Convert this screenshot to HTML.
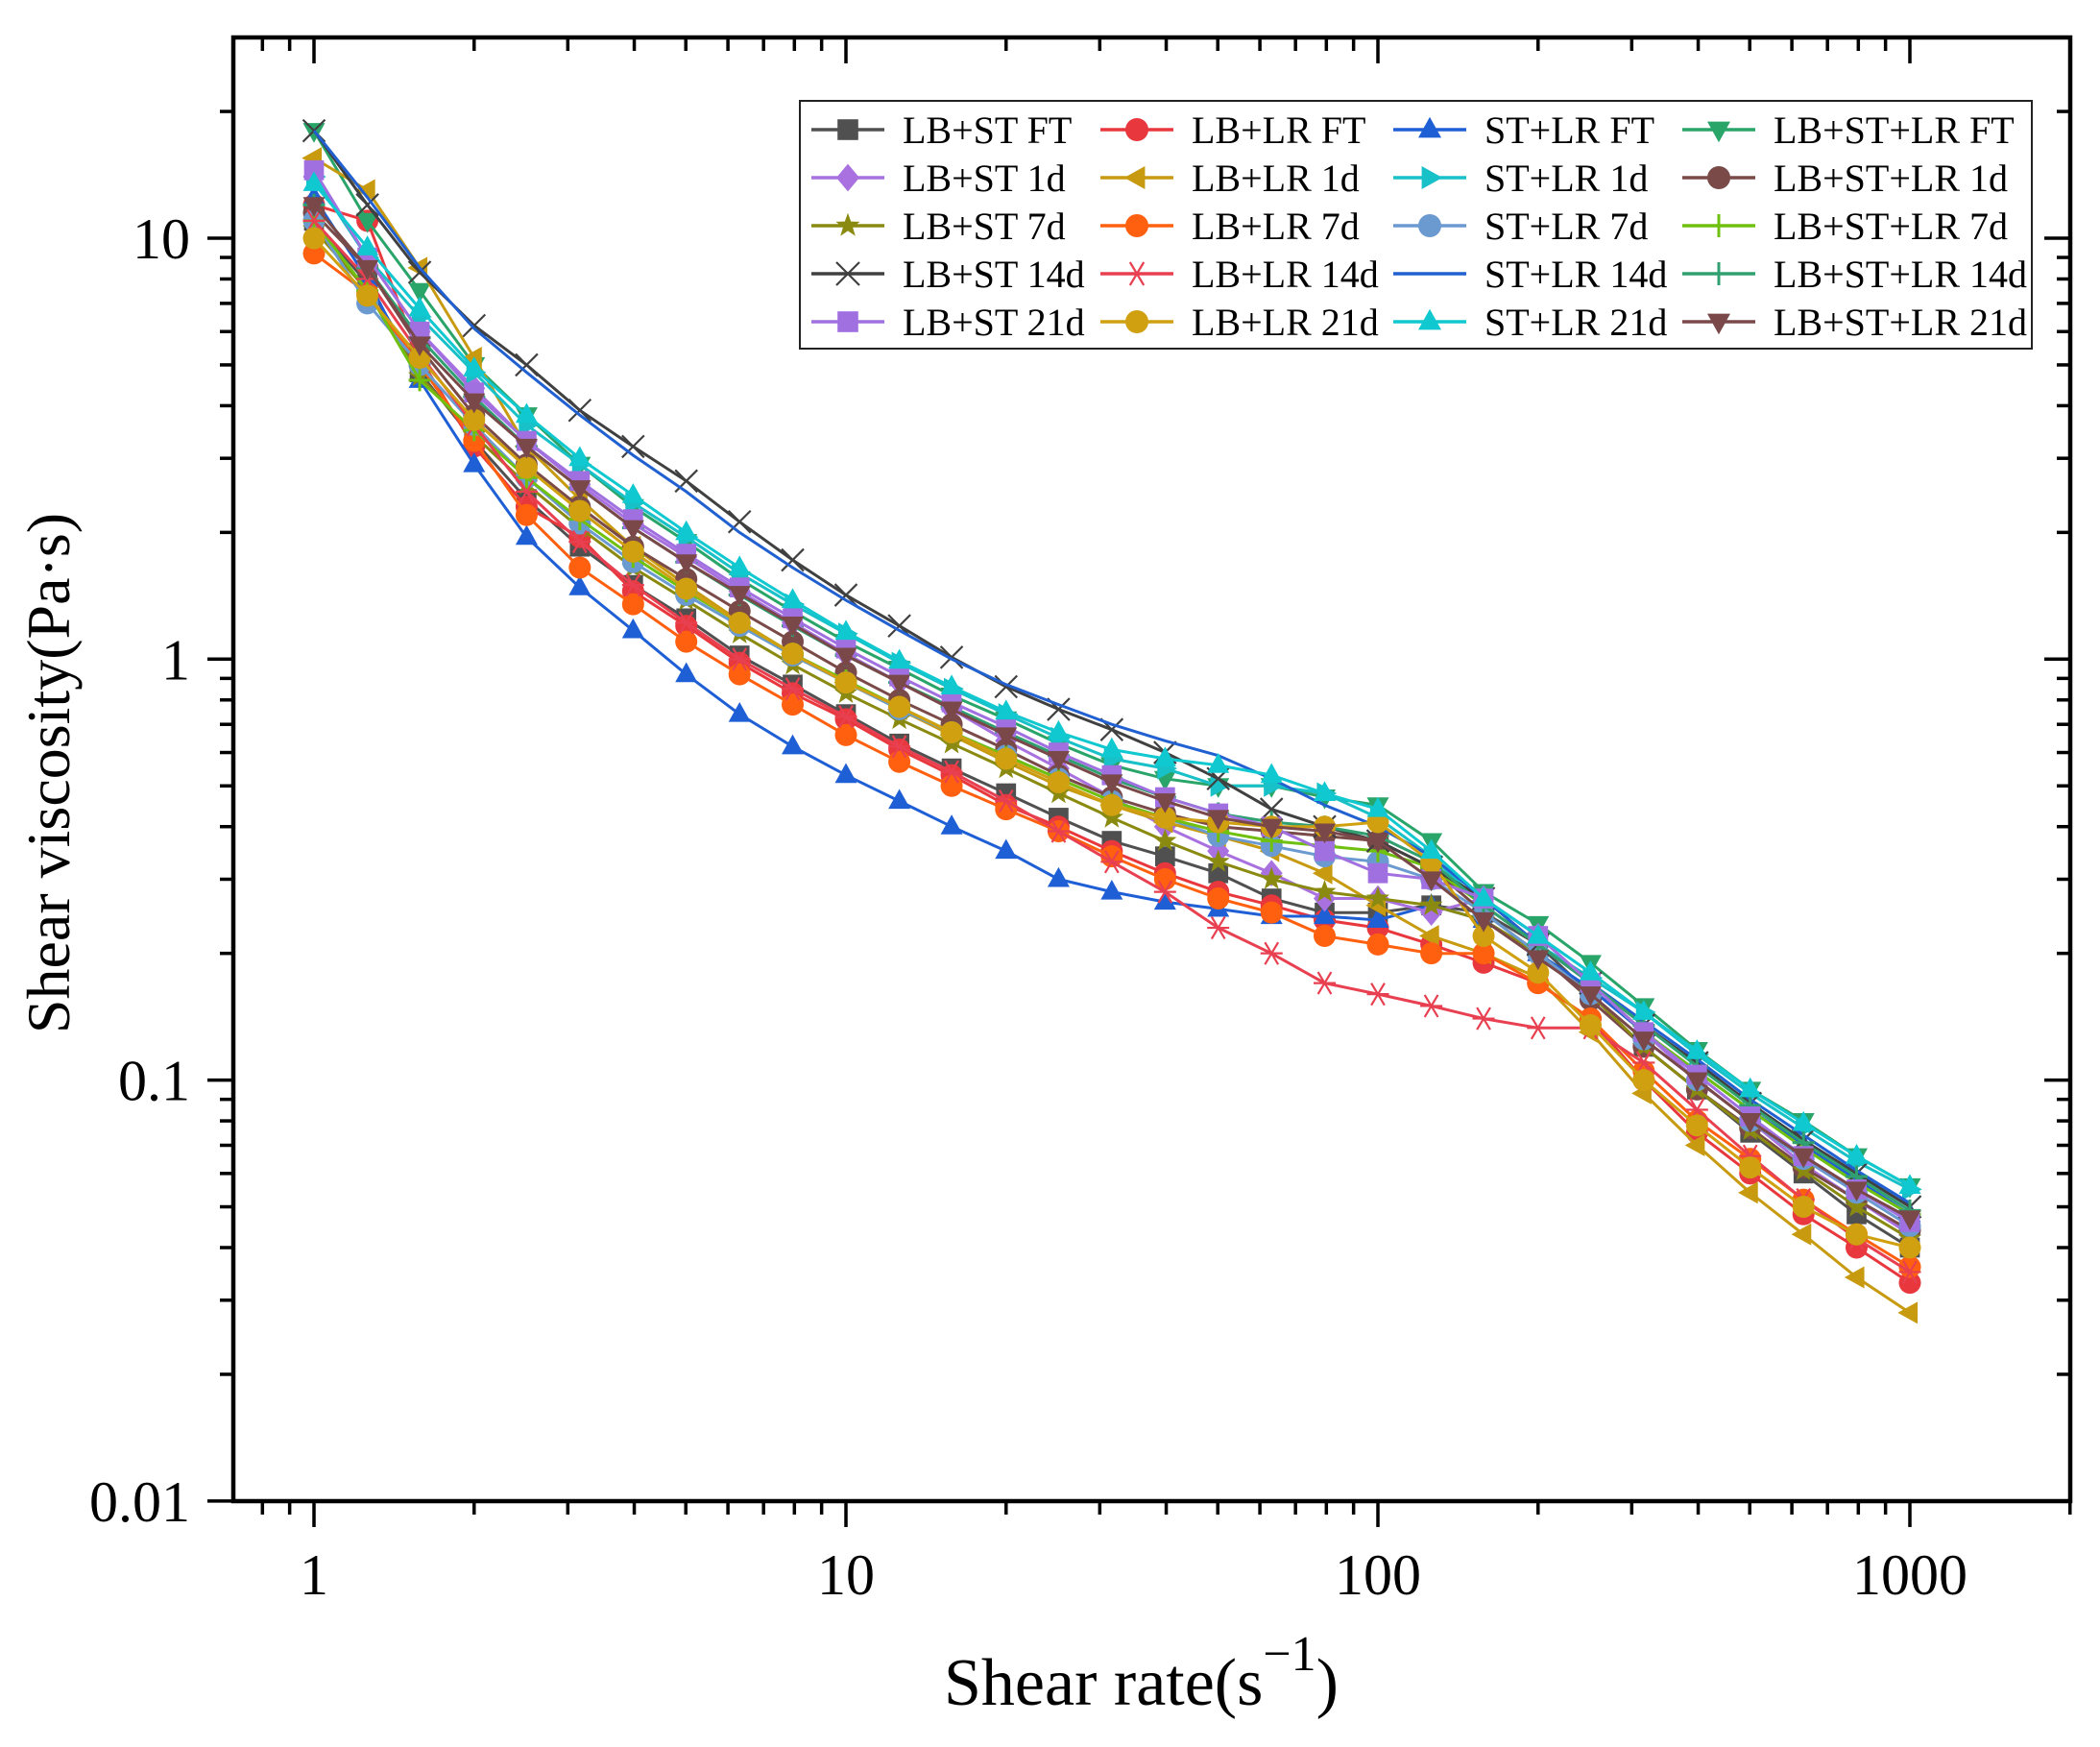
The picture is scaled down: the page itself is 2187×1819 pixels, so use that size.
<!DOCTYPE html>
<html><head><meta charset="utf-8"><style>
html,body{margin:0;padding:0;background:#fff;}
svg{display:block;font-family:"Liberation Serif",serif;}
</style></head><body>
<svg id="chart" width="2187" height="1819" viewBox="0 0 2187 1819" xmlns="http://www.w3.org/2000/svg">
<rect x="0" y="0" width="2187" height="1819" fill="#fff"/>
<g id="plot"></g>
<g id="axes"></g>
<g id="legend"></g>
<text transform="translate(72,805) rotate(-90)" text-anchor="middle" font-size="64">Shear viscosity(Pa·s)</text>
<text x="983" y="1775" font-size="70">Shear rate(s<tspan dy="-36" font-size="52">−1</tspan><tspan dy="36">)</tspan></text>
</svg>
<script>
const xRates=[1,1.26,1.58,2,2.51,3.16,3.98,5.01,6.31,7.94,10,12.6,15.8,20,25.1,31.6,39.8,50.1,63.1,79.4,100,126,158,200,251,316,398,501,631,794,1000];
const seriesNames=["LB+ST FT","LB+LR FT","ST+LR FT","LB+ST+LR FT","LB+ST 1d","LB+LR 1d","ST+LR 1d","LB+ST+LR 1d","LB+ST 7d","LB+LR 7d","ST+LR 7d","LB+ST+LR 7d","LB+ST 14d","LB+LR 14d","ST+LR 14d","LB+ST+LR 14d","LB+ST 21d","LB+LR 21d","ST+LR 21d","LB+ST+LR 21d"];
const lbstFT=[11,7.8,4.8,3.3,2.4,1.85,1.5,1.25,1.02,0.87,0.74,0.63,0.55,0.48,0.42,0.37,0.34,0.31,0.27,0.25,0.25,0.26,0.25,0.21,0.16,0.12,0.095,0.075,0.06,0.048,0.04];
const lblrFT=[12,11,5.2,3.2,2.3,1.95,1.45,1.2,0.98,0.83,0.72,0.61,0.53,0.45,0.40,0.35,0.31,0.28,0.26,0.24,0.23,0.21,0.19,0.17,0.14,0.1,0.075,0.06,0.048,0.04,0.033];
const stlrFT=[12.5,8,4.6,2.9,1.95,1.48,1.17,0.92,0.74,0.62,0.53,0.46,0.40,0.35,0.30,0.28,0.265,0.255,0.245,0.245,0.24,0.26,0.24,0.2,0.165,0.13,0.105,0.085,0.07,0.058,0.048];
const allFT=[18,11,7.5,5,3.8,2.9,2.3,1.9,1.55,1.3,1.1,0.95,0.82,0.72,0.63,0.56,0.52,0.5,0.5,0.47,0.45,0.37,0.28,0.235,0.19,0.15,0.118,0.095,0.08,0.066,0.056];
const lbst1d=[14,9,6,4.4,3.3,2.6,2.1,1.75,1.45,1.22,1.03,0.88,0.76,0.64,0.55,0.47,0.4,0.35,0.31,0.27,0.27,0.25,0.27,0.22,0.17,0.13,0.1,0.08,0.063,0.052,0.043];
const lblr1d=[15.5,13,8.5,5.2,3.2,2.4,1.85,1.5,1.23,1.03,0.88,0.76,0.66,0.57,0.5,0.45,0.41,0.38,0.35,0.31,0.26,0.22,0.2,0.175,0.13,0.093,0.07,0.054,0.043,0.034,0.028];
const stlr1d=[14,9,6.5,4.8,3.6,2.9,2.35,1.95,1.6,1.35,1.15,0.98,0.85,0.74,0.65,0.58,0.55,0.5,0.5,0.48,0.42,0.34,0.26,0.21,0.175,0.145,0.115,0.093,0.077,0.064,0.055];
const all1d=[11.5,8.5,5.5,3.8,2.9,2.3,1.85,1.55,1.3,1.1,0.93,0.8,0.7,0.61,0.53,0.47,0.43,0.4,0.39,0.38,0.37,0.32,0.25,0.2,0.155,0.12,0.095,0.077,0.062,0.052,0.044];
const lbst7d=[10.5,7.5,4.7,3.4,2.6,2.05,1.65,1.38,1.15,0.97,0.83,0.72,0.63,0.55,0.48,0.42,0.37,0.33,0.3,0.28,0.27,0.26,0.24,0.2,0.16,0.12,0.095,0.076,0.061,0.05,0.042];
const lblr7d=[9.2,7.4,5.0,3.3,2.2,1.65,1.35,1.1,0.92,0.78,0.66,0.57,0.5,0.44,0.39,0.34,0.3,0.27,0.25,0.22,0.21,0.2,0.2,0.17,0.14,0.105,0.08,0.065,0.052,0.043,0.036];
const stlr7d=[11,7,5,3.6,2.7,2.1,1.7,1.42,1.2,1.02,0.88,0.76,0.67,0.59,0.52,0.46,0.42,0.38,0.36,0.34,0.33,0.3,0.25,0.2,0.16,0.125,0.1,0.08,0.065,0.054,0.045];
const all7d=[11,7.5,4.6,3.5,2.7,2.15,1.75,1.45,1.22,1.03,0.89,0.77,0.67,0.59,0.52,0.46,0.42,0.39,0.37,0.36,0.35,0.32,0.26,0.21,0.17,0.13,0.105,0.085,0.069,0.057,0.048];
const lbst14d=[18,12,8.3,6.2,5.0,3.9,3.2,2.65,2.12,1.72,1.42,1.2,1.01,0.86,0.76,0.68,0.6,0.52,0.44,0.4,0.37,0.32,0.27,0.21,0.17,0.135,0.11,0.088,0.072,0.06,0.05];
const lblr14d=[11,8,5.3,3.6,2.5,1.9,1.5,1.22,1.0,0.85,0.73,0.62,0.54,0.46,0.39,0.33,0.28,0.23,0.2,0.17,0.16,0.15,0.14,0.133,0.133,0.11,0.085,0.066,0.052,0.042,0.035];
const stlr14d=[18,12.5,8.5,6.1,4.8,3.8,3.05,2.5,2.0,1.65,1.38,1.17,1.0,0.87,0.78,0.7,0.64,0.59,0.52,0.45,0.4,0.34,0.27,0.21,0.17,0.138,0.112,0.09,0.074,0.061,0.051];
const all14d=[12,8.5,5.8,4.2,3.2,2.55,2.05,1.7,1.42,1.2,1.02,0.88,0.77,0.67,0.59,0.52,0.47,0.43,0.41,0.4,0.38,0.33,0.26,0.21,0.17,0.135,0.108,0.087,0.071,0.059,0.049];
const lbst21d=[14.5,9,6,4.3,3.3,2.65,2.15,1.78,1.48,1.25,1.06,0.91,0.79,0.69,0.6,0.53,0.47,0.43,0.4,0.35,0.31,0.3,0.27,0.22,0.17,0.13,0.103,0.082,0.066,0.055,0.046];
const lblr21d=[10,7.3,5.2,3.7,2.85,2.25,1.8,1.47,1.22,1.03,0.88,0.77,0.67,0.58,0.51,0.45,0.42,0.41,0.4,0.4,0.41,0.33,0.22,0.18,0.135,0.1,0.078,0.062,0.05,0.043,0.04];
const stlr21d=[13.5,9.5,6.8,4.9,3.8,3.0,2.45,2.0,1.65,1.38,1.16,0.99,0.86,0.75,0.67,0.61,0.58,0.56,0.53,0.48,0.44,0.35,0.27,0.22,0.18,0.145,0.117,0.095,0.079,0.066,0.056];
const all21d=[12,8.5,5.6,4.1,3.2,2.55,2.05,1.7,1.43,1.21,1.02,0.88,0.76,0.66,0.58,0.51,0.46,0.42,0.4,0.39,0.37,0.3,0.24,0.195,0.16,0.125,0.1,0.08,0.066,0.055,0.047];
const xTickLabels=["1","10","100","1000"];
const yTickLabels=["0.01","0.1","1","10"];

const seriesData=[lbstFT,lblrFT,stlrFT,allFT,lbst1d,lblr1d,stlr1d,all1d,lbst7d,lblr7d,stlr7d,all7d,lbst14d,lblr14d,stlr14d,all14d,lbst21d,lblr21d,stlr21d,all21d];
const styles=[["#505050","square"],["#e8383d","circle"],["#1f5fd6","tri-up"],["#2aa56a","tri-down"],["#a970e0","diamond"],["#c89a10","tri-left"],["#18c0c8","tri-right"],["#7a4a48","circle"],["#8a8a10","star"],["#ff6010","pentagon"],["#6a9ad0","circle"],["#70c010","plus"],["#404040","cross"],["#e84050","asterisk"],["#2060d0","none"],["#30a070","plus"],["#a070e0","square"],["#d0a010","circle"],["#10c8d0","tri-up"],["#7a4848","tri-down"]];

const L=243,R=2156,T=39,B=1563;
const X0=327,XD=554,Y1=248,YD=438.3;
function sx(v){return X0+Math.log10(v)*XD;}
function sy(v){return Y1+(1-Math.log10(v))*YD;}
const NS="http://www.w3.org/2000/svg";
function mk(tag,attrs,parent){const e=document.createElementNS(NS,tag);for(const k in attrs)e.setAttribute(k,attrs[k]);parent.appendChild(e);return e;}

function marker(parent,shape,x,y,c,s){
  let e;const r=s/2;
  if(shape==="square"){e=mk("rect",{x:x-r*0.9,y:y-r*0.9,width:r*1.8,height:r*1.8,fill:c},parent);}
  else if(shape==="circle"||shape==="pentagon"){e=mk("circle",{cx:x,cy:y,r:r,fill:c},parent);}
  else if(shape==="tri-up"){e=mk("polygon",{points:`${x},${y-r*1.1} ${x+r},${y+r*0.7} ${x-r},${y+r*0.7}`,fill:c},parent);}
  else if(shape==="tri-down"){e=mk("polygon",{points:`${x},${y+r*1.1} ${x+r},${y-r*0.7} ${x-r},${y-r*0.7}`,fill:c},parent);}
  else if(shape==="tri-left"){e=mk("polygon",{points:`${x-r*1.1},${y} ${x+r*0.7},${y-r} ${x+r*0.7},${y+r}`,fill:c},parent);}
  else if(shape==="tri-right"){e=mk("polygon",{points:`${x+r*1.1},${y} ${x-r*0.7},${y-r} ${x-r*0.7},${y+r}`,fill:c},parent);}
  else if(shape==="diamond"){e=mk("polygon",{points:`${x},${y-r*1.2} ${x+r},${y} ${x},${y+r*1.2} ${x-r},${y}`,fill:c},parent);}
  else if(shape==="star"){let p=[];for(let i=0;i<10;i++){const a=-Math.PI/2+i*Math.PI/5;const rr=i%2?r*0.45:r*1.1;p.push((x+rr*Math.cos(a)).toFixed(1)+","+(y+rr*Math.sin(a)).toFixed(1));}e=mk("polygon",{points:p.join(" "),fill:c},parent);}
  else if(shape==="plus"){e=mk("path",{d:`M${x-r},${y}H${x+r}M${x},${y-r}V${y+r}`,stroke:c,"stroke-width":3,fill:"none"},parent);}
  else if(shape==="cross"){e=mk("path",{d:`M${x-r},${y-r}L${x+r},${y+r}M${x+r},${y-r}L${x-r},${y+r}`,stroke:c,"stroke-width":2.2,fill:"none"},parent);}
  else if(shape==="asterisk"){e=mk("path",{d:`M${x-r},${y}H${x+r}M${x-r*0.6},${y-r}L${x+r*0.6},${y+r}M${x+r*0.6},${y-r}L${x-r*0.6},${y+r}`,stroke:c,"stroke-width":2.2,fill:"none"},parent);}
  return e;
}

const plot=document.getElementById("plot");
seriesData.forEach((vals,si)=>{
  const [c,shape]=styles[si];
  const g=mk("g",{},plot);
  
  
  const d=vals.map((v,i)=>(i?"L":"M")+sx(xRates[i]).toFixed(1)+","+sy(v).toFixed(1)).join("");
  const line=mk("path",{d:d,stroke:c,"stroke-width":3,fill:"none"},g);
  
  
  if(shape!=="none"){
    vals.forEach((v,i)=>{
      const m=marker(g,shape,sx(xRates[i]),sy(v),c,23);
      
      
    });
  }
});

const axes=document.getElementById("axes");
const frame=mk("rect",{x:L,y:T,width:R-L,height:B-T,fill:"none",stroke:"#000","stroke-width":4.5},axes);


for(let e=-1;e<=3;e++){
  for(let k=1;k<=9;k++){
    const v=k*Math.pow(10,e);const x=sx(v);
    if(x<L+2||x>R+1)continue;
    const major=k===1;const len=major?27:14;
    mk("line",{x1:x,y1:B,x2:x,y2:B+len,stroke:"#000","stroke-width":3.5},axes);
    mk("line",{x1:x,y1:T,x2:x,y2:T+len,stroke:"#000","stroke-width":3.5},axes);
  }
}
xTickLabels.forEach(s=>{
  const t=mk("text",{x:sx(parseFloat(s)),y:1660,"text-anchor":"middle","font-size":60},axes);
  t.textContent=s;
  
  
});
for(let e=-2;e<=1;e++){
  for(let k=1;k<=9;k++){
    const v=k*Math.pow(10,e);const y=sy(v);
    if(y<T+2||y>B+1)continue;
    const major=k===1;const len=major?27:14;
    mk("line",{x1:L,y1:y,x2:L-len,y2:y,stroke:"#000","stroke-width":3.5},axes);
    mk("line",{x1:R,y1:y,x2:R-len,y2:y,stroke:"#000","stroke-width":3.5},axes);
  }
}
yTickLabels.forEach(s=>{
  const t=mk("text",{x:198,y:sy(parseFloat(s))+21,"text-anchor":"end","font-size":60},axes);
  t.textContent=s;
  
  
});

const leg=document.getElementById("legend");
const box=mk("rect",{x:833,y:105,width:1283,height:258,fill:"#fff",stroke:"#222","stroke-width":2},leg);


const colX=[883,1184,1489,1790];
const rowY=[135,185,235,285,335];
seriesNames.forEach((n,si)=>{
  const col=si%4,row=Math.floor(si/4);
  const [c,shape]=styles[si];
  const g=mk("g",{},leg);
  
  
  const cx=colX[col],cy=rowY[row];
  mk("line",{x1:cx-38,y1:cy,x2:cx+38,y2:cy,stroke:c,"stroke-width":3.5},g);
  if(shape!=="none")marker(g,shape,cx,cy,c,24);
  const t=mk("text",{x:cx+57,y:cy+14,"font-size":40,"textLength":0},g);
  t.removeAttribute("textLength");
  t.textContent=n;
});
</script>
</body></html>
